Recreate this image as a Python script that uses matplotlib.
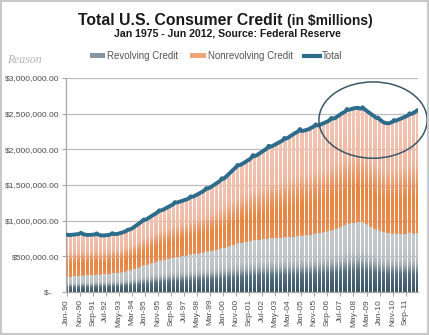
import numpy as np
import matplotlib
matplotlib.use('Agg')
import matplotlib.pyplot as plt
from matplotlib.colors import LinearSegmentedColormap
from matplotlib.patches import Patch, Ellipse, Rectangle
from matplotlib.lines import Line2D

plt.rcParams['font.family'] = ['Liberation Sans', 'DejaVu Sans']

# Monthly values, Jan 1990 - Jun 2012, in $ billions
total_bn = [
    805, 800, 798, 800, 802, 804, 806, 808, 810, 812, 818, 830,          # 1990
    818, 810, 805, 802, 800, 800, 801, 802, 803, 805, 810, 822,          # 1991
    808, 800, 795, 793, 792, 793, 795, 797, 800, 803, 810, 825,          # 1992
    815, 812, 812, 815, 820, 825, 830, 836, 842, 850, 860, 875,          # 1993
    875, 880, 890, 902, 915, 928, 940, 953, 966, 980, 995, 1015,         # 1994
    1012, 1018, 1028, 1040, 1052, 1064, 1075, 1086, 1097, 1108, 1122, 1145,  # 1995
    1142, 1146, 1154, 1164, 1174, 1184, 1194, 1203, 1212, 1222, 1235, 1260,  # 1996
    1255, 1256, 1262, 1268, 1274, 1280, 1286, 1292, 1298, 1305, 1316, 1340,  # 1997
    1335, 1338, 1345, 1355, 1365, 1375, 1385, 1395, 1405, 1417, 1430, 1455,  # 1998
    1450, 1455, 1465, 1476, 1488, 1500, 1512, 1524, 1537, 1550, 1565, 1595,  # 1999
    1585, 1595, 1612, 1630, 1648, 1665, 1683, 1700, 1718, 1735, 1752, 1780,  # 2000
    1775, 1780, 1790, 1800, 1810, 1822, 1834, 1846, 1856, 1870, 1890, 1920,  # 2001
    1905, 1910, 1920, 1932, 1944, 1956, 1968, 1980, 1992, 2004, 2020, 2050,  # 2002
    2035, 2040, 2048, 2058, 2068, 2078, 2088, 2098, 2108, 2118, 2130, 2160,  # 2003
    2150, 2155, 2165, 2178, 2190, 2202, 2214, 2226, 2236, 2246, 2258, 2285,  # 2004
    2260, 2258, 2262, 2268, 2272, 2278, 2285, 2295, 2305, 2315, 2325, 2350,  # 2005
    2335, 2335, 2342, 2350, 2358, 2366, 2374, 2382, 2390, 2400, 2415, 2440,  # 2006
    2430, 2432, 2440, 2452, 2465, 2478, 2490, 2502, 2512, 2522, 2535, 2565,  # 2007
    2555, 2556, 2562, 2568, 2574, 2578, 2580, 2582, 2578, 2572, 2570, 2590,  # 2008
    2570, 2555, 2540, 2528, 2515, 2500, 2488, 2476, 2462, 2448, 2438, 2445,  # 2009
    2420, 2405, 2392, 2380, 2372, 2368, 2366, 2366, 2370, 2378, 2386, 2410,  # 2010
    2400, 2405, 2412, 2420, 2428, 2436, 2444, 2452, 2460, 2468, 2478, 2505,  # 2011
    2495, 2500, 2512, 2522, 2532, 2550,                                  # 2012
]

revolving_bn = [
    210, 212, 213, 215, 216, 218, 219, 221, 222, 224, 226, 232,
    229, 230, 231, 232, 233, 234, 235, 236, 237, 238, 240, 246,
    243, 244, 245, 246, 247, 248, 249, 250, 252, 254, 256, 263,
    260, 262, 264, 266, 268, 271, 274, 277, 281, 286, 292, 302,
    300, 305, 311, 317, 323, 329, 335, 341, 348, 355, 362, 374,
    372, 377, 383, 389, 395, 401, 407, 413, 419, 425, 432, 445,
    440, 443, 447, 451, 455, 459, 463, 467, 471, 475, 480, 492,
    488, 490, 493, 496, 499, 502, 505, 508, 511, 514, 518, 530,
    525, 527, 530, 533, 536, 539, 542, 545, 548, 551, 555, 568,
    563, 566, 570, 574, 578, 582, 586, 590, 594, 598, 603, 617,
    612, 617, 622, 628, 634, 640, 646, 652, 658, 664, 670, 685,
    680, 683, 686, 690, 694, 698, 702, 706, 710, 714, 718, 732,
    726, 727, 729, 731, 733, 735, 737, 739, 741, 743, 746, 758,
    752, 752, 753, 754, 755, 756, 757, 758, 760, 762, 764, 776,
    770, 770, 771, 772, 773, 774, 776, 778, 780, 782, 785, 798,
    792, 792, 793, 794, 796, 798, 800, 803, 806, 810, 814, 828,
    822, 824, 827, 830, 834, 838, 842, 846, 850, 855, 860, 875,
    870, 874, 880, 887, 894, 902, 910, 918, 926, 935, 945, 962,
    958, 960, 963, 966, 970, 974, 978, 980, 982, 982, 980, 990,
    972, 960, 948, 936, 925, 915, 906, 898, 890, 882, 875, 878,
    862, 855, 848, 842, 836, 832, 828, 825, 822, 820, 818, 828,
    815, 813, 812, 813, 814, 815, 816, 817, 818, 820, 822, 838,
    826, 822, 820, 820, 822, 825,
]

month_names = ['Jan', 'Feb', 'Mar', 'Apr', 'May', 'Jun',
               'Jul', 'Aug', 'Sep', 'Oct', 'Nov', 'Dec']
start_year = 1990

ytick_values = [0, 500000, 1000000, 1500000, 2000000, 2500000, 3000000]
ytick_labels = ['$-   ', '$500,000.00', '$1,000,000.00', '$1,500,000.00',
                '$2,000,000.00', '$2,500,000.00', '$3,000,000.00']

# --- derived ---
total = np.array(total_bn) * 1000.0          # $ millions
revolving = np.array(revolving_bn) * 1000.0
nonrevolving = total - revolving
months = np.arange(len(total))
xlabels = [f"{month_names[m % 12]}-{(start_year + m // 12) % 100:02d}" for m in months]

rev_cmap = LinearSegmentedColormap.from_list('rev', [
    (0.0, '#3b5667'), (0.3, '#587080'), (0.46, '#a7b0b6'),
    (0.58, '#bec3c6'), (1.0, '#c6cacc')])
non_cmap = LinearSegmentedColormap.from_list('non', [
    (0.0, '#e98c50'), (0.28, '#e8853f'), (0.42, '#eb9866'),
    (0.58, '#f0b9a2'), (1.0, '#f3c5b6')])


def gradient_bars(ax, bars, cmap):
    grad = np.linspace(0, 1, 64).reshape(-1, 1)
    for b in bars:
        x0, y0 = b.get_x(), b.get_y()
        w, h = b.get_width(), b.get_height()
        ax.imshow(grad, cmap=cmap, extent=(x0, x0 + w, y0, y0 + h),
                  origin='lower', aspect='auto', interpolation='bilinear',
                  zorder=2)


fig = plt.figure(figsize=(4.29, 3.35), dpi=100)
ax = fig.add_axes([66 / 429, 43 / 335, 352 / 429, 214 / 335])

bw = 0.75
rev_bars = ax.bar(months, revolving, width=bw, color='none', edgecolor='none')
non_bars = ax.bar(months, nonrevolving, width=bw, bottom=revolving,
                  color='none', edgecolor='none')
gradient_bars(ax, rev_bars, rev_cmap)
gradient_bars(ax, non_bars, non_cmap)

ax.plot(months, total, color='#2d6c8a', lw=2.8, solid_joinstyle='round',
        solid_capstyle='round', zorder=4)

# highlight ellipse
ax.add_patch(Ellipse((235, 2.41e6), width=83, height=1.07e6, fill=False,
                     ec='#3a5866', lw=1.1, clip_on=False, zorder=5))

ax.set_xlim(-0.5, len(months) - 0.5)
ax.set_ylim(0, 3000000)
ax.set_yticks(ytick_values)
ax.set_yticklabels(ytick_labels)
ax.set_xticks(months[::10])
ax.set_xticklabels(xlabels[::10], rotation=90)

ax.yaxis.grid(True, color='#bdbdbd', lw=0.9)
ax.set_axisbelow(True)
for s in ['top', 'right']:
    ax.spines[s].set_visible(False)
for s in ['left', 'bottom']:
    ax.spines[s].set_color('#a8a8a8')
    ax.spines[s].set_linewidth(0.9)
ax.tick_params(axis='both', labelsize=6, colors='#a8a8a8', labelcolor='#4a4a4a',
               length=3, width=0.8, pad=2)

# titles
fig.text(283 / 429, 1 - 25 / 335, 'Total U.S. Consumer Credit', ha='right',
         va='baseline', fontsize=11.3, fontweight='bold', color='#1a1a1a')
fig.text(287 / 429, 1 - 25 / 335, r'(in \$millions)', ha='left',
         va='baseline', fontsize=10, fontweight='bold', color='#1a1a1a')
fig.text(227 / 429, 1 - 36 / 335, 'Jan 1975 - Jun 2012, Source: Federal Reserve',
         ha='center', va='baseline', fontsize=7.6, fontweight='bold', color='#1a1a1a')

# logo text
fig.text(7 / 429, 1 - 63 / 335, 'Reason', ha='left', va='baseline', fontsize=8.5,
         fontstyle='italic', family=['Liberation Serif', 'DejaVu Serif'],
         color='#b5b5b5')

handles = [Patch(facecolor='#8895a0', edgecolor='none'),
           Patch(facecolor='#efa47c', edgecolor='none'),
           Line2D([], [], color='#2d6c8a', lw=3)]
fig.legend(handles, ['Revolving Credit', 'Nonrevolving Credit', 'Total'],
           loc='center', bbox_to_anchor=(216 / 429, 1 - 56 / 335),
           ncol=3, frameon=False, fontsize=7, handlelength=1.6,
           handleheight=0.5, handletextpad=0.2, columnspacing=1.2,
           labelcolor='#555555')

# outer frame
fig.add_artist(Rectangle((0.002, 0.003), 0.995, 0.994, transform=fig.transFigure,
                         fill=False, ec='#c8c8c8', lw=1.5))

fig.savefig('out.png', dpi=100)
